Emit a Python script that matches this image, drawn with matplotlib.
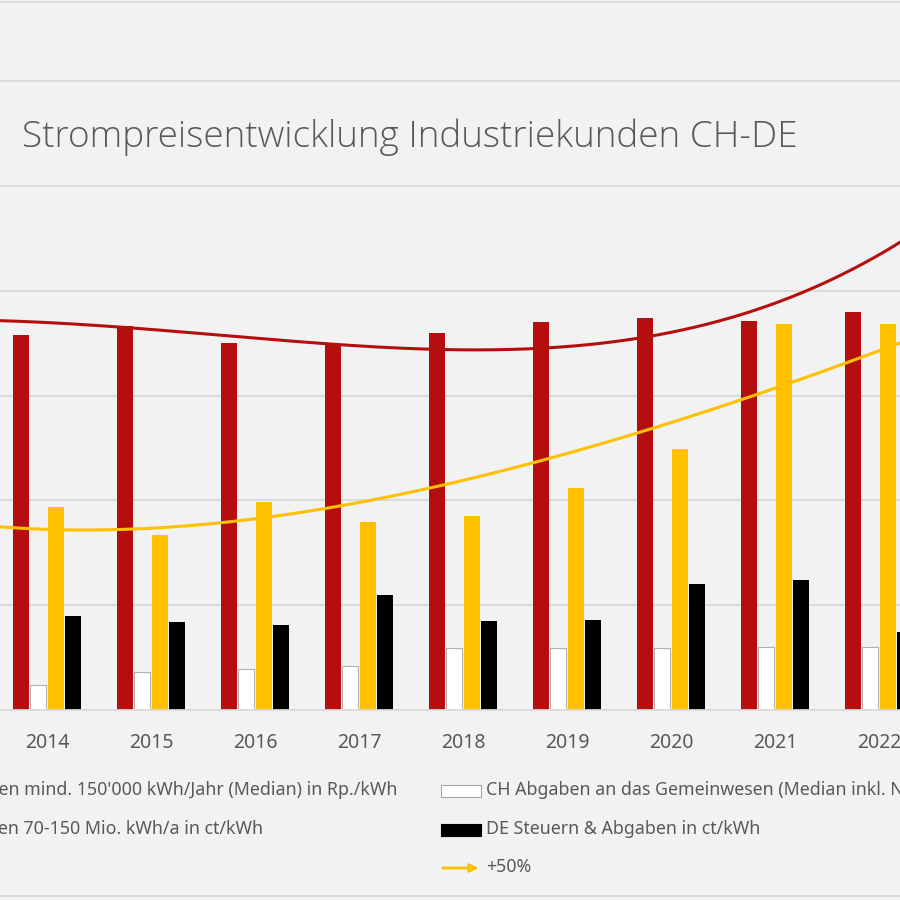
import numpy as np
import matplotlib.pyplot as plt
from matplotlib.patches import Rectangle
from matplotlib.lines import Line2D

# data (2014..2022)
years = ["2014", "2015", "2016", "2017", "2018", "2019", "2020", "2021", "2022"]
ch_price = [17.9, 18.3, 17.5, 17.45, 18.0, 18.5, 18.7, 18.55, 19.0]
ch_abgaben = [1.2, 1.8, 1.95, 2.1, 2.95, 2.95, 2.95, 3.0, 3.0]
de_price = [9.7, 8.35, 9.9, 8.95, 9.25, 10.6, 12.45, 18.4, 18.4]
de_abgaben = [4.5, 4.2, 4.05, 5.5, 4.25, 4.3, 6.0, 6.2, 3.7]

# trend lines at half-category steps
trend_x = [-0.452, 0, 0.5, 1, 1.5, 2, 2.5, 3, 3.5, 4, 4.5, 5, 5.5, 6, 6.5, 7, 7.5, 8, 8.2]
trend_ch = [18.57, 18.49, 18.34, 18.18, 17.94, 17.72, 17.53, 17.37, 17.25, 17.18,
            17.25, 17.37, 17.61, 17.99, 18.51, 19.39, 20.56, 21.76, 22.23]
trend_de = [8.70, 8.66, 8.62, 8.66, 8.86, 9.12, 9.46, 9.88, 10.39, 10.90,
            11.57, 12.29, 13.02, 13.75, 14.46, 15.28, 16.23, 17.16, 17.52]

labels_left = ["CH Industriekunden mind. 150'000 kWh/Jahr (Median) in Rp./kWh",
               "DE Industriekunden 70-150 Mio. kWh/a in ct/kWh"]
labels_right = ["CH Abgaben an das Gemeinwesen (Median inkl. Netzzuschlag) in Rp./kWh",
                "DE Steuern & Abgaben in ct/kWh", "+50%"]

RED = "#B50E0E"
YEL = "#FFC000"
BG = "#F2F2F2"
GRID = "#D9D9D9"
TXT = "#595959"
FONT = "Noto Sans"

fig = plt.figure(figsize=(9, 9), dpi=100, facecolor=BG)
ax = fig.add_axes([0, 190 / 900, 1, 710 / 900])
ax.set_facecolor(BG)

x = np.arange(len(years))
slot = 0.168
w = 0.157
ax.bar(x - 1.5 * slot, ch_price, w, color=RED, zorder=2)
ax.bar(x - 0.5 * slot, ch_abgaben, w, color="white", edgecolor="#B0B0B0", linewidth=0.8, zorder=2)
ax.bar(x + 0.5 * slot, de_price, w, color=YEL, zorder=2)
ax.bar(x + 1.5 * slot, de_abgaben, w, color="black", zorder=2)

# polynomial trendlines (like the spreadsheet's), fitted to the read points
xs = np.linspace(trend_x[0], trend_x[-1], 300)
fit_ch = np.polyfit(trend_x, trend_ch, 4)
fit_de = np.polyfit(trend_x, trend_de, 4)
ax.plot(xs, np.polyval(fit_ch, xs), color=RED, lw=2.2, zorder=3)
ax.plot(xs, np.polyval(fit_de, xs), color=YEL, lw=2.2, zorder=3)

ax.set_xlim(-47 / 104, 853 / 104)
ax.set_ylim(0, 710 * 5 / 104.8)
ax.set_yticks(np.arange(0, 31, 5))
ax.yaxis.grid(True, color=GRID, lw=1.3, zorder=0)
ax.tick_params(axis="y", left=False, labelleft=False)
ax.set_xticks(x)
ax.set_xticklabels(years, fontsize=14, color=TXT, fontfamily=FONT)
ax.tick_params(axis="x", length=0, pad=16.5)
for s in ["top", "left", "right"]:
    ax.spines[s].set_visible(False)
ax.spines["bottom"].set_color(GRID)
ax.spines["bottom"].set_linewidth(1.3)

# title
fig.text(22 / 900, 1 - 137 / 900, "Strompreisentwicklung Industriekunden CH-DE",
         fontsize=26.6, color=TXT, fontfamily=["Open Sans", FONT], fontweight=300,
         va="center", ha="left")

# chart border lines
fig.add_artist(Line2D([0, 1], [1 - 1.5 / 900, 1 - 1.5 / 900], color=GRID, lw=1.3))
fig.add_artist(Line2D([0, 1], [1 - 896 / 900, 1 - 896 / 900], color=GRID, lw=1.3))

# legend (drawn by hand, it is cut by the picture edges)
def fy(py):
    return 1 - py / 900

LS = 12.8
fig.text(397 / 900, fy(790), labels_left[0], fontsize=LS, color=TXT, fontfamily=FONT,
         ha="right", va="center")
fig.text(263 / 900, fy(829), labels_left[1], fontsize=LS, color=TXT, fontfamily=FONT,
         ha="right", va="center")

fig.add_artist(Rectangle((441 / 900, fy(797)), 40 / 900, 12 / 900, facecolor="white",
                         edgecolor="#A6A6A6", lw=0.8, transform=fig.transFigure))
fig.add_artist(Rectangle((441 / 900, fy(836)), 40 / 900, 12 / 900, facecolor="black",
                         edgecolor="black", lw=0.8, transform=fig.transFigure))
fig.add_artist(plt.annotate("", xy=(481 / 900, fy(868)), xytext=(440 / 900, fy(868)),
                            xycoords="figure fraction",
                            arrowprops=dict(arrowstyle="-|>", color=YEL, lw=1.8,
                                            mutation_scale=12)))
fig.text(486 / 900, fy(790), labels_right[0], fontsize=LS, color=TXT, fontfamily=FONT,
         ha="left", va="center")
fig.text(486 / 900, fy(829), labels_right[1], fontsize=LS, color=TXT, fontfamily=FONT,
         ha="left", va="center")
fig.text(486 / 900, fy(867), labels_right[2], fontsize=LS, color=TXT, fontfamily=FONT,
         ha="left", va="center")

fig.savefig("out.png", dpi=100, facecolor=BG)
